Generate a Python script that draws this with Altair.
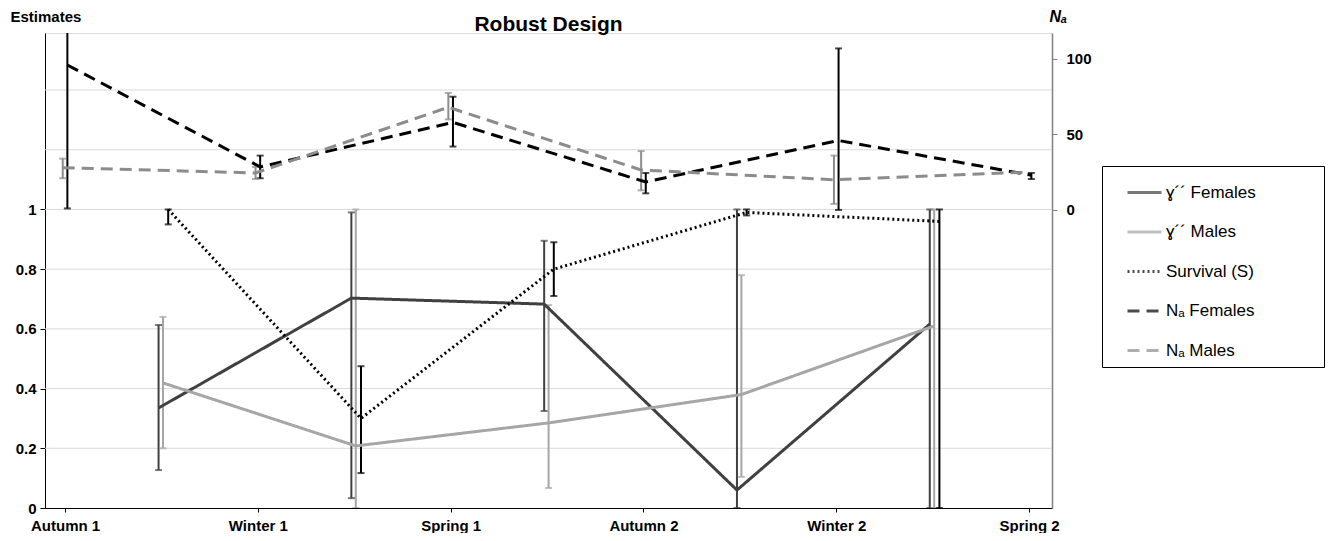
import json
import altair as alt
import pandas as pd

# ---------------- data ----------------
seasons = ["Autumn 1", "Winter 1", "Spring 1", "Autumn 2", "Winter 2", "Spring 2"]
series_labels = ["ɣ´´ Females", "ɣ´´ Males", "Survival (S)", "Nₐ Females", "Nₐ Males"]

gamma_f = [0.335, 0.703, 0.683, 0.060, 0.616]
gamma_f_lo = [0.127, 0.033, 0.325, 0.000, 0.000]
gamma_f_hi = [0.613, 0.990, 0.895, 1.000, 1.000]

gamma_m = [0.419, 0.208, 0.285, 0.380, 0.610]
gamma_m_lo = [0.200, 0.000, 0.067, 0.104, 0.000]
gamma_m_hi = [0.640, 1.000, 0.680, 0.780, 1.000]

survival = [1.000, 0.300, 0.800, 0.990, 0.960]
survival_lo = [0.950, 0.117, 0.710, 0.980, 0.000]
survival_hi = [1.000, 0.475, 0.890, 1.000, 1.000]

na_f = [96, 28.5, 58, 18.5, 46, 23]
na_f_lo = [1, 21, 42, 11, 0, 20.5]
na_f_hi = [125, 36, 75, 24.5, 107, 24.5]

na_m = [28, 24.5, 68, 26.5, 20, 25]
na_m_lo = [21, 20.5, 60, 13, 4, None]
na_m_hi = [34, 28.5, 77.5, 39, 36, None]

grid_values = [0.2, 0.4, 0.6, 0.8, 1.0, 1.2, 1.4]
left_ticks = [0, 0.2, 0.4, 0.6, 0.8, 1.0]
right_ticks = [0, 50, 100]

# ---------------- style ----------------
FONT = "Liberation Sans"
colors = ["#404040", "#a6a6a6", "#000000", "#000000", "#8c8c8c"]
dashes = [[1, 0], [1, 0], [2, 3], [12, 7], [12, 7]]
# horizontal placement of each series relative to the season index
x_shift = [0.485, 0.508, 0.535, 0.012, -0.012]
LEGEND_PAD_CHARS = "\u2800" * 5


def rows(label_idx, vals, lo, hi):
    out = []
    for i, v in enumerate(vals):
        out.append({
            "series": series_labels[label_idx],
            "x": i + x_shift[label_idx],
            "y": v,
            "lo": lo[i],
            "hi": hi[i],
        })
    return out


left_df = pd.DataFrame(
    rows(0, gamma_f, gamma_f_lo, gamma_f_hi)
    + rows(1, gamma_m, gamma_m_lo, gamma_m_hi)
    + rows(2, survival, survival_lo, survival_hi)
)
right_df = pd.DataFrame(
    rows(3, na_f, na_f_lo, na_f_hi) + rows(4, na_m, na_m_lo, na_m_hi)
)
grid_df = pd.DataFrame({"g": grid_values})

# ---------------- scales / axes ----------------
x_scale = alt.Scale(domain=[-0.104, 5.119], nice=False, zero=False)
left_scale = alt.Scale(domain=[0, 1.591], nice=False, zero=False)
right_scale = alt.Scale(domain=[-197.4, 117.2], nice=False, zero=False)

x_axis = alt.Axis(
    values=list(range(len(seasons))),
    labelExpr=json.dumps(seasons) + "[datum.value]",
    title=None, grid=False,
    domainColor="black", domainWidth=1,
    tickColor="black", tickSize=4, labelPadding=6,
    labelFont=FONT, labelFontSize=15, labelFontWeight="bold", labelColor="black",
    labelFlush=False, labelOverlap=False,
)
left_axis = alt.Axis(
    values=left_ticks, format="~g", grid=False,
    domainColor="black", domainWidth=1,
    tickColor="black", tickSize=5, labelPadding=4,
    labelFont=FONT, labelFontSize=15, labelFontWeight="bold", labelColor="black",
    labelFlush=False, labelOverlap=False,
    title="Estimates", titleAngle=0, titleAlign="left", titleBaseline="alphabetic",
    titleX=-35, titleY=-12,
    titleFont=FONT, titleFontSize=15, titleFontWeight="bold", titleColor="black",
)
right_axis = alt.Axis(
    orient="right", values=right_ticks, grid=False,
    domainColor="#808080", domainWidth=1.5,
    tickColor="#808080", tickSize=5, labelPadding=9,
    labelFont=FONT, labelFontSize=15, labelFontWeight="bold", labelColor="black",
    labelFlush=False, labelOverlap=False,
    title="Nₐ", titleAngle=0, titleAlign="left", titleBaseline="alphabetic",
    titleX=-3, titleY=-12,
    titleFont=FONT, titleFontSize=16, titleFontWeight="bold", titleFontStyle="italic",
    titleColor="black",
)

legend_def = alt.Legend(
    orient="none", legendX=1057, legendY=133,
    title=None, symbolType="stroke", symbolSize=1156, symbolStrokeWidth=3,
    symbolOffset=16,
    labelFont=FONT, labelFontSize=17, labelColor="black", labelOffset=3,
    labelLimit=400,
    labelExpr="datum.label + '" + LEGEND_PAD_CHARS + "'",
    rowPadding=12.5, padding=8, strokeColor="black", fillColor="white",
)

x_enc = alt.X("x:Q", scale=x_scale, axis=x_axis)
color_enc = alt.Color("series:N", scale=alt.Scale(domain=series_labels, range=colors), legend=legend_def)
dash_enc = alt.StrokeDash("series:N", scale=alt.Scale(domain=series_labels, range=dashes), legend=legend_def)


def build(df, scale, axis, line_width, bar_width):
    base = alt.Chart(df)
    bars = base.transform_filter("isValid(datum.lo)")
    rules = bars.mark_rule(strokeWidth=bar_width, clip=True).encode(
        x=x_enc,
        y=alt.Y("lo:Q", scale=scale, axis=axis),
        y2="hi:Q",
        color=color_enc,
    )
    cap_lo = bars.mark_tick(orient="horizontal", size=7, thickness=2, clip=True).encode(
        x=x_enc, y=alt.Y("lo:Q", scale=scale, axis=axis), color=color_enc
    )
    cap_hi = bars.mark_tick(orient="horizontal", size=7, thickness=2, clip=True).encode(
        x=x_enc, y=alt.Y("hi:Q", scale=scale, axis=axis), color=color_enc
    )
    lines = base.mark_line(strokeWidth=line_width, clip=True).encode(
        x=x_enc,
        y=alt.Y("y:Q", scale=scale, axis=axis),
        color=color_enc,
        strokeDash=dash_enc,
    )
    return [rules, cap_lo, cap_hi, lines]


grid = alt.Chart(grid_df).mark_rule(color="#d9d9d9", strokeWidth=1).encode(
    y=alt.Y("g:Q", scale=left_scale, axis=left_axis)
)

left_layer = alt.layer(grid, *build(left_df, left_scale, left_axis, 3, 2))
right_layer = alt.layer(*build(right_df, right_scale, right_axis, 3, 2))

chart = (
    alt.layer(left_layer, right_layer)
    .resolve_scale(y="independent")
    .properties(
        width=1007,
        height=475,
        autosize=alt.AutoSizeParams(type="none"),
        padding={"left": 37, "top": 25, "right": 275, "bottom": 25},
        title=alt.TitleParams(
            text="Robust Design", font=FONT, fontSize=21, fontWeight="bold",
            anchor="middle", frame="group", offset=-25, dy=19, baseline="alphabetic",
            color="black",
        ),
    )
    .configure_view(stroke=None)
    .configure(background="white")
)

chart.save("out.html", embed_options={"renderer": "svg", "actions": False})
